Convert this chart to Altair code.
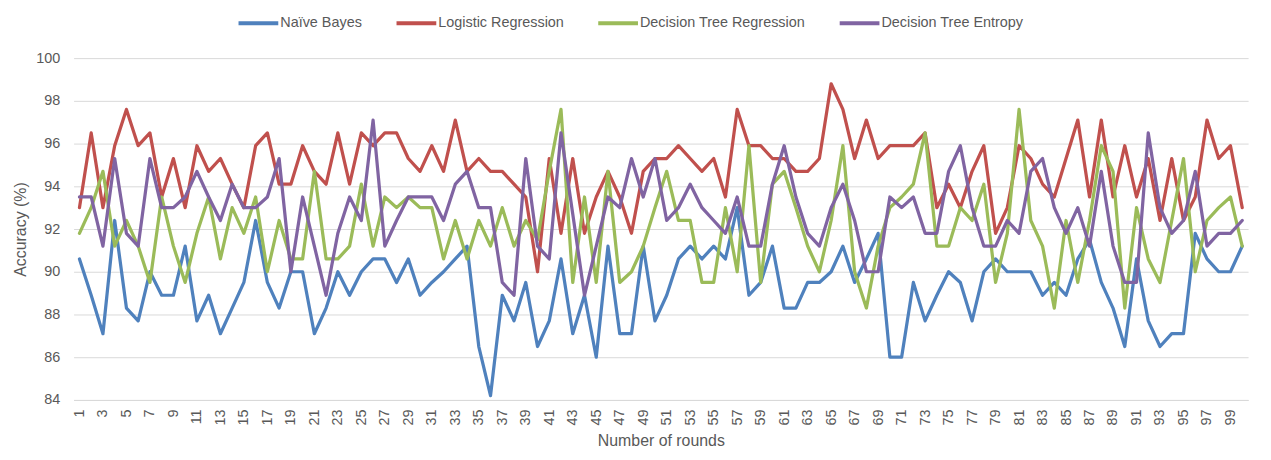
import altair as alt
import pandas as pd

rounds = list(range(1, 101))

naive_bayes = [
    90.6, 88.9, 87.1, 92.4, 88.3, 87.7, 90.0, 88.9, 88.9, 91.2,
    87.7, 88.9, 87.1, 88.3, 89.5, 92.4, 89.5, 88.3, 90.0, 90.0,
    87.1, 88.3, 90.0, 88.9, 90.0, 90.6, 90.6, 89.5, 90.6, 88.9,
    89.5, 90.0, 90.6, 91.2, 86.5, 84.2, 88.9, 87.7, 89.5, 86.5,
    87.7, 90.6, 87.1, 88.9, 86.0, 91.2, 87.1, 87.1, 91.2, 87.7,
    88.9, 90.6, 91.2, 90.6, 91.2, 90.6, 93.0, 88.9, 89.5, 91.2,
    88.3, 88.3, 89.5, 89.5, 90.0, 91.2, 89.5, 90.6, 91.8, 86.0,
    86.0, 89.5, 87.7, 88.9, 90.0, 89.5, 87.7, 90.0, 90.6, 90.0,
    90.0, 90.0, 88.9, 89.5, 88.9, 90.6, 91.5, 89.5, 88.3, 86.5,
    90.6, 87.7, 86.5, 87.1, 87.1, 91.8, 90.6, 90.0, 90.0, 91.2,
]

logistic_regression = [
    93.0, 96.5, 93.0, 95.9, 97.6, 95.9, 96.5, 93.5, 95.3, 93.0,
    95.9, 94.7, 95.3, 94.1, 93.0, 95.9, 96.5, 94.1, 94.1, 95.9,
    94.7, 94.1, 96.5, 94.1, 96.5, 95.9, 96.5, 96.5, 95.3, 94.7,
    95.9, 94.7, 97.1, 94.7, 95.3, 94.7, 94.7, 94.1, 93.5, 90.0,
    95.3, 91.8, 95.3, 91.8, 93.5, 94.7, 93.5, 91.8, 94.7, 95.3,
    95.3, 95.9, 95.3, 94.7, 95.3, 93.5, 97.6, 95.9, 95.9, 95.3,
    95.3, 94.7, 94.7, 95.3, 98.8, 97.6, 95.3, 97.1, 95.3, 95.9,
    95.9, 95.9, 96.5, 93.0, 94.1, 93.0, 94.7, 95.9, 91.8, 93.0,
    95.9, 95.3, 94.1, 93.5, 95.3, 97.1, 93.5, 97.1, 93.5, 95.9,
    93.5, 95.3, 92.4, 95.3, 92.4, 93.5, 97.1, 95.3, 95.9, 93.0,
]

decision_tree_regression = [
    91.8, 93.0, 94.7, 91.2, 92.4, 91.2, 89.5, 93.5, 91.2, 89.5,
    91.8, 93.5, 90.6, 93.0, 91.8, 93.5, 90.0, 92.4, 90.6, 90.6,
    94.7, 90.6, 90.6, 91.2, 94.1, 91.2, 93.5, 93.0, 93.5, 93.0,
    93.0, 90.6, 92.4, 90.6, 92.4, 91.2, 93.0, 91.2, 92.4, 91.5,
    94.7, 97.6, 89.5, 93.5, 89.5, 94.7, 89.5, 90.0, 91.2, 93.0,
    94.7, 92.4, 92.4, 89.5, 89.5, 93.0, 90.0, 95.9, 89.5, 94.1,
    94.7, 93.0, 91.2, 90.0, 92.4, 95.9, 90.0, 88.3, 91.2, 93.0,
    93.5, 94.1, 96.5, 91.2, 91.2, 93.0, 92.4, 94.1, 89.5, 91.8,
    97.6, 92.4, 91.2, 88.3, 92.4, 89.5, 92.4, 95.9, 94.7, 88.3,
    93.0, 90.6, 89.5, 92.4, 95.3, 90.0, 92.4, 93.0, 93.5, 91.2,
]

decision_tree_entropy = [
    93.5, 93.5, 91.2, 95.3, 91.8, 91.2, 95.3, 93.0, 93.0, 93.5,
    94.7, 93.5, 92.4, 94.1, 93.0, 93.0, 93.5, 95.3, 90.0, 93.5,
    91.2, 88.9, 91.8, 93.5, 92.4, 97.1, 91.2, 92.4, 93.5, 93.5,
    93.5, 92.4, 94.1, 94.7, 93.0, 93.0, 89.5, 88.9, 95.3, 91.2,
    90.6, 96.5, 92.7, 88.9, 91.2, 93.5, 93.0, 95.3, 93.5, 95.3,
    92.4, 93.0, 94.1, 93.0, 92.4, 91.8, 93.5, 91.2, 91.2, 94.1,
    95.9, 93.5, 91.8, 91.2, 93.0, 94.1, 92.4, 90.0, 90.0, 93.5,
    93.0, 93.5, 91.8, 91.8, 94.7, 95.9, 93.0, 91.2, 91.2, 92.4,
    91.8, 94.7, 95.3, 93.0, 91.8, 93.0, 91.2, 94.7, 91.2, 89.5,
    89.5, 96.5, 93.0, 91.8, 92.4, 94.7, 91.2, 91.8, 91.8, 92.4,
]

series_names = ["Naïve Bayes", "Logistic Regression",
                "Decision Tree Regression", "Decision Tree Entropy"]
series_colors = ["#4F81BD", "#C0504D", "#9BBB59", "#8064A2"]
y_ticks = [84, 86, 88, 90, 92, 94, 96, 98, 100]
x_ticks = list(range(1, 100, 2))

rows = []
for name, vals in zip(series_names, [naive_bayes, logistic_regression,
                                     decision_tree_regression, decision_tree_entropy]):
    for r, v in zip(rounds, vals):
        rows.append({"round": r, "accuracy": v, "series": name})
df = pd.DataFrame(rows)

FONT = "Liberation Sans"
GRAY = "#595959"

color = alt.Color(
    "series:N",
    scale=alt.Scale(domain=series_names, range=series_colors),
    legend=alt.Legend(
        title=None, orient="none", direction="horizontal",
        legendX=164, legendY=-57,
        symbolType="stroke", symbolSize=1600, symbolStrokeWidth=4,
        labelFontSize=14.5, labelColor=GRAY, labelFont=FONT, labelLimit=0,
        columnPadding=26, labelOffset=0,
    ),
)

x = alt.X(
    "round:Q",
    scale=alt.Scale(domain=[0.5, 100.5], nice=False, zero=False),
    axis=alt.Axis(values=x_ticks, labelAngle=-90, grid=False, ticks=False,
                  title="Number of rounds", domainColor="#d9d9d9",
                  labelPadding=9, labelFontSize=14.5, labelColor=GRAY,
                  titleFontSize=16, titleColor=GRAY, titleFontWeight="normal",
                  titlePadding=8, labelFont=FONT, titleFont=FONT),
)
y = alt.Y(
    "accuracy:Q",
    scale=alt.Scale(domain=[84, 100], nice=False, zero=False),
    axis=alt.Axis(values=y_ticks, grid=True, gridColor="#d9d9d9", domain=False,
                  ticks=False, labelPadding=14, title="Accuracy (%)",
                  labelFontSize=14.5, labelColor=GRAY,
                  titleFontSize=16, titleColor=GRAY, titleFontWeight="normal",
                  titlePadding=7, labelFont=FONT, titleFont=FONT),
)

layers = []
for name in series_names:
    layers.append(
        alt.Chart(df)
        .transform_filter(alt.datum.series == name)
        .mark_line(strokeWidth=3.25, strokeJoin="round", strokeCap="round")
        .encode(x=x, y=y, color=color)
    )

chart = (
    alt.layer(*layers)
    .properties(
        width=1182, height=344,
        autosize=alt.AutoSizeParams(type="none"),
        padding={"left": 66, "top": 49, "right": 15, "bottom": 59},
    )
    .configure_view(stroke=None)
)

chart.save("out.html", embed_options={"renderer": "svg", "actions": False})
